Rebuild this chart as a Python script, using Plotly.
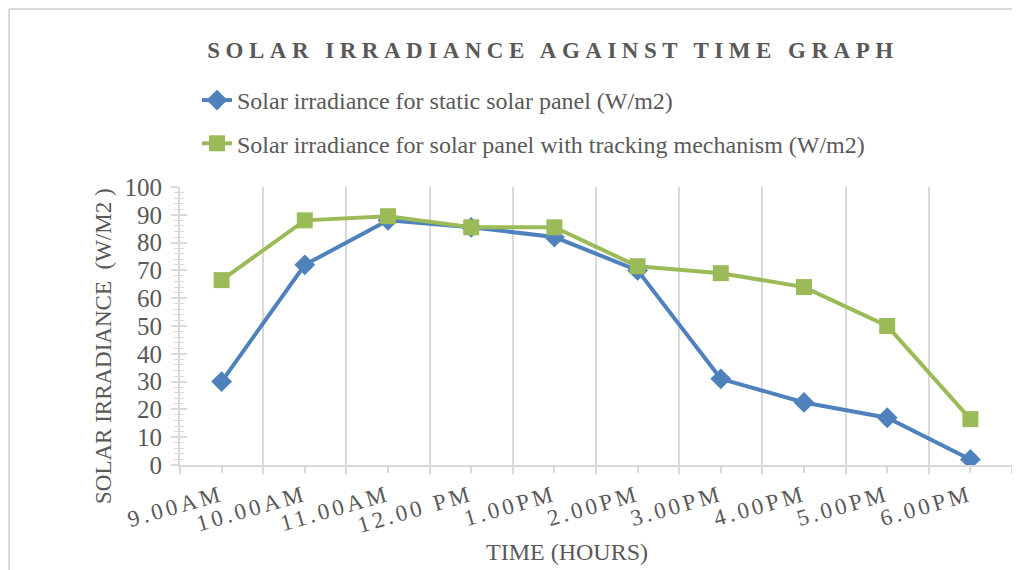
import plotly.graph_objects as go

times = ["9.00AM", "10.00AM", "11.00AM", "12.00 PM", "1.00PM", "2.00PM",
         "3.00PM", "4.00PM", "5.00PM", "6.00PM"]
static_panel = [30, 72, 88, 85.5, 82, 70, 31, 22.5, 17, 2]
tracking_panel = [66.5, 88, 89.5, 85.5, 85.5, 71.5, 69, 64, 50, 16.5]

name_static = "Solar irradiance for static solar panel (W/m2)"
name_tracking = "Solar irradiance for solar panel with tracking mechanism (W/m2)"
title_text = "SOLAR IRRADIANCE AGAINST TIME GRAPH"
x_title = "TIME (HOURS)"
y_title = "SOLAR IRRADIANCE  (W/M2 )"

FONT = "Liberation Serif, Times New Roman, serif"
TXT = "#595959"
GRID = "#d9d9d9"
BLUE = "#4f81bd"
GREEN = "#9bbb59"

OFF = 8  # page body margin
W, H = 1020 - OFF, 570 - OFF
L, R, T, B = 180 - OFF, 8, 187 - OFF, 105
pw, ph = W - L - R, H - T - B


def px_x(p):
    return (p - OFF - L) / pw


def px_y(p):
    return (H - B - (p - OFF)) / ph


fig = go.Figure()
fig.add_trace(go.Scatter(
    x=times, y=static_panel, name=name_static, mode="lines+markers",
    line=dict(color=BLUE, width=4), legendgroup="a",
    marker=dict(symbol="diamond", size=16, color=BLUE)))
fig.add_trace(go.Scatter(
    x=times, y=tracking_panel, name=name_tracking, mode="lines+markers",
    line=dict(color=GREEN, width=4), legendgroup="b",
    marker=dict(symbol="square", size=16, color=GREEN)))

ticktext = ['<span style="letter-spacing:3.5px">%s</span>' % t for t in times]

fig.update_layout(
    width=W, height=H,
    margin=dict(l=L, r=R, t=T, b=B, autoexpand=False),
    paper_bgcolor="white", plot_bgcolor="white",
    font=dict(family=FONT, color=TXT, size=20),
    title=dict(text='<b><span style="letter-spacing:5.5px">%s</span></b>' % title_text,
               x=(553 - OFF) / W, xanchor="center", y=1 - 42 / H, yanchor="middle",
               font=dict(family=FONT, size=23, color=TXT)),
    showlegend=True,
    legend=dict(x=px_x(197), y=px_y(78), xanchor="left", yanchor="top",
                orientation="v", tracegroupgap=9,
                font=dict(family=FONT, size=24, color=TXT),
                bgcolor="rgba(0,0,0,0)"),
    xaxis=dict(type="category", categoryorder="array", categoryarray=times,
               range=[-0.5, len(times) - 0.5], automargin=False,
               tickmode="array", tickvals=times, ticktext=ticktext,
               tickson="boundaries", showgrid=True, gridcolor=GRID, gridwidth=2,
               showline=True, linecolor=GRID, linewidth=2,
               ticks="outside", ticklen=7, tickcolor=GRID, tickwidth=2,
               tickangle=-16, ticklabelstandoff=6,
               tickfont=dict(family=FONT, size=23, color=TXT),
               zeroline=False, fixedrange=True),
    xaxis2=dict(overlaying="x", range=[-0.5, len(times) - 0.5], tick0=0, dtick=1,
                showgrid=False, showline=False, showticklabels=False, automargin=False,
                ticks="outside", ticklen=7, tickcolor=GRID, tickwidth=2,
                zeroline=False, anchor="y"),
    yaxis=dict(range=[0, 100], dtick=10, showgrid=False, automargin=False,
               showline=True, linecolor=GRID, linewidth=2,
               ticks="outside", ticklen=7, tickcolor=GRID, tickwidth=2,
               minor=dict(dtick=2, ticks="outside", ticklen=4, tickcolor=GRID, tickwidth=1),
               tickfont=dict(family=FONT, size=25, color=TXT), ticklabelstandoff=4,
               zeroline=False),
    yaxis2=dict(overlaying="y", range=[0, 100], dtick=10, showgrid=False,
                showline=False, showticklabels=False, automargin=False,
                ticks="inside", ticklen=7, tickcolor=GRID, tickwidth=2,
                minor=dict(dtick=2, ticks="inside", ticklen=4, tickcolor=GRID, tickwidth=1),
                zeroline=False, anchor="x"),
    annotations=[
        dict(text=x_title, xref="paper", yref="paper", x=px_x(567), y=px_y(552),
             showarrow=False, xanchor="center", yanchor="middle",
             font=dict(family=FONT, size=24, color=TXT)),
        dict(text=y_title, xref="paper", yref="paper", x=px_x(103), y=px_y(346),
             showarrow=False, xanchor="center", yanchor="middle", textangle=-90,
             font=dict(family=FONT, size=23, color=TXT)),
    ],
    shapes=[
        dict(type="line", xref="paper", yref="paper", x0=px_x(9), x1=px_x(1020),
             y0=px_y(9), y1=px_y(9), line=dict(color=GRID, width=2)),
        dict(type="line", xref="paper", yref="paper", x0=px_x(9), x1=px_x(9),
             y0=px_y(9), y1=px_y(570), line=dict(color=GRID, width=2)),
    ],
)

# invisible helper traces so the overlay axes draw their ticks
fig.add_trace(go.Scatter(x=[0], y=[0], xaxis="x2", yaxis="y", mode="markers",
                         marker=dict(opacity=0), showlegend=False, hoverinfo="skip"))
fig.add_trace(go.Scatter(x=[times[0]], y=[0], xaxis="x", yaxis="y2", mode="markers",
                         marker=dict(opacity=0), showlegend=False, hoverinfo="skip"))

fig.write_html("out.html")
